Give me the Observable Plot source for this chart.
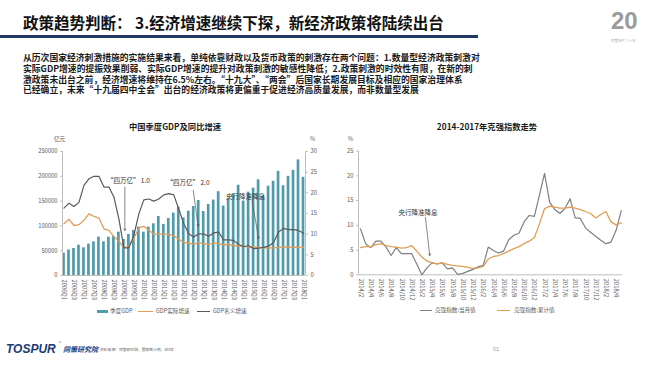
<!DOCTYPE html>
<html><head><meta charset="utf-8">
<script src="https://cdn.jsdelivr.net/npm/d3@7"></script>
<script src="https://cdn.jsdelivr.net/npm/@observablehq/plot@0.6"></script>
<style>
html,body{margin:0;padding:0;background:#fff;}
#page{position:relative;width:650px;height:365px;overflow:hidden;font-family:"Noto Sans CJK SC","Noto Sans",sans-serif;color:#1a1a1a;}
.abs{position:absolute;white-space:nowrap;}
#page svg{position:absolute;left:0;top:0;}
.body{font-size:8.8px;font-weight:700;line-height:10.5px;left:23px;}
.ct{font-size:8.3px;font-weight:700;line-height:10px;transform:translateX(-50%);}
.lg{font-size:5.6px;color:#595959;line-height:8px;}
.sw{position:absolute;}
</style></head><body><div id="page">
<div class="abs" style="left:23px;top:13px;font-size:15.5px;font-weight:700;line-height:18px;color:#111;">政策趋势判断： 3.经济增速继续下探，新经济政策将陆续出台</div>
<div class="abs" style="left:0;top:34.5px;width:478px;height:3.5px;background:#1f3864;"></div>
<div class="abs" style="left:611px;top:8px;font-size:24px;font-weight:700;color:#9b9b9b;font-family:'Liberation Sans';line-height:26px;">20</div>
<div class="abs" style="left:611px;top:38.5px;font-size:3.5px;color:#aaa;line-height:4px;">同策地产二十年</div>
<div class="abs body" style="top:53.3px;">从历次国家经济刺激措施的实施结果来看，单纯依靠财政以及货币政策的刺激存在两个问题：1.数量型经济政策刺激对</div>
<div class="abs body" style="top:64px;">实际GDP增速的提振效果削弱、实际GDP增速的提升对政策刺激的敏感性降低；2.政策刺激的时效性有限，在新的刺</div>
<div class="abs body" style="top:74.6px;">激政策未出台之前，经济增速将维持在6.5%左右。“十九大”、“两会”后国家长期发展目标及相应的国家治理体系</div>
<div class="abs body" style="top:85.3px;">已经确立，未来“十九届四中全会”出台的经济政策将更偏重于促进经济高质量发展，而非数量型发展</div>
<div class="abs ct" style="left:175px;top:121px;">中国季度GDP及同比增速</div>
<div class="abs ct" style="left:487px;top:121px;">2014-2017年克强指数走势</div>
<div class="abs lg" style="left:54px;top:135px;">亿元</div>
<div class="abs lg" style="left:310px;top:135px;">%</div>
<div class="abs lg" style="left:348px;top:135px;">%</div>

<div class="sw" style="left:97px;top:309.5px;width:11px;height:3px;background:#4f9bab;"></div>
<div class="abs lg" style="left:110px;top:307px;">季度GDP</div>
<div class="sw" style="left:138px;top:310.5px;width:15px;height:1.2px;background:#e09d55;"></div>
<div class="abs lg" style="left:156px;top:307px;">GDP实际增速</div>
<div class="sw" style="left:197px;top:310.5px;width:13px;height:1.2px;background:#5a5a5a;"></div>
<div class="abs lg" style="left:213px;top:307px;">GDP名义增速</div>

<div class="sw" style="left:420px;top:309.5px;width:12px;height:1.2px;background:#7f7f7f;"></div>
<div class="abs lg" style="left:435px;top:306px;">克强指数:当月值</div>
<div class="sw" style="left:497px;top:309.5px;width:13px;height:1.2px;background:#e09d55;"></div>
<div class="abs lg" style="left:514px;top:306px;">克强指数:累计值</div>

<div class="abs" style="left:6px;top:342px;font-family:'Liberation Sans';font-size:12px;font-weight:700;font-style:italic;color:#1a3a7a;line-height:14px;">TOSPUR</div>
<div class="abs" style="left:59px;top:341px;font-size:3px;color:#1a3a7a;">®</div>
<div class="abs" style="left:63px;top:345px;font-size:7px;font-weight:700;font-style:italic;color:#1a3a7a;line-height:9px;">同策研究院</div>
<div class="abs" style="left:100px;top:347px;font-size:3.8px;color:#666;line-height:5px;">资料来源：同策研究院、国家统计局、wind</div>
<div class="abs" style="left:493px;top:346px;font-size:5.5px;color:#999;line-height:7px;">61</div>
</div>
<script>
// ---------- Left chart data ----------
const quarters = ["2006Q1","2006Q2","2006Q3","2006Q4","2007Q1","2007Q2","2007Q3","2007Q4",
"2008Q1","2008Q2","2008Q3","2008Q4","2009Q1","2009Q2","2009Q3","2009Q4",
"2010Q1","2010Q2","2010Q3","2010Q4","2011Q1","2011Q2","2011Q3","2011Q4",
"2012Q1","2012Q2","2012Q3","2012Q4","2013Q1","2013Q2","2013Q3","2013Q4",
"2014Q1","2014Q2","2014Q3","2014Q4","2015Q1","2015Q2","2015Q3","2015Q4",
"2016Q1","2016Q2","2016Q3","2016Q4","2017Q1","2017Q2","2017Q3","2017Q4","2018Q1"];
const gdpQuarterly = [45000,51500,54500,61000,55800,63200,67900,77300,67900,77300,78600,87400,
72600,82700,90700,97500,87400,97500,104200,119000,102800,115000,125700,137800,
116300,129700,139100,151200,129000,143000,152000,169000,140000,155000,165000,182000,
150000,168000,176000,193000,161000,180000,190000,210000,181000,200000,212000,233000,198000];
const gdpRealGrowth = [12.5,13.6,12.1,12.3,13.4,14.9,14.3,13.9,11.3,10.9,9.4,8.3,
6.6,7.2,9.0,11.5,11.9,11.0,10.0,10.0,10.0,10.0,9.6,8.8,8.0,7.8,7.6,7.9,
7.7,7.5,7.9,7.7,7.4,7.5,7.2,7.2,7.0,7.0,6.9,6.8,6.7,6.7,6.7,6.8,6.9,6.9,6.8,6.8,6.8];
const gdpNominalGrowth = [16.3,17.5,16.7,17.7,21.8,23.4,24.0,24.0,21.4,21.4,19.0,13.7,
6.7,6.7,9.7,14.9,18.3,18.5,18.0,18.5,19.5,19.8,19.5,16.1,12.5,10.1,9.3,10.1,
10.0,9.5,10.3,10.5,8.6,8.6,8.5,7.5,7.0,7.2,6.5,6.6,6.8,7.1,8.0,10.5,11.4,11.1,11.1,10.9,10.2];
const leftYTicks = [0,50000,100000,150000,200000,250000];
const rightYTicks = [0,5,10,15,20,25,30];
// annotations (x in quarter index, y in %)
const annLabels = ["“四万亿” 1.0","“四万亿” 2.0","央行降准降息"];
const annTextX = [12.9,24.85,36.4];
const annTextY = [22.8,22.3,18.9];
const annArrowX1 = [12.2,25.9,37.7], annArrowY1 = [21.4,20.6,18.1];
const annArrowX2 = [12.2,26.9,39.0], annArrowY2 = [10.9,11.9,8.9];

// ---------- Right chart data ----------
const months = ["2014/2","2014/3","2014/4","2014/5","2014/6","2014/7","2014/8","2014/9","2014/10","2014/11","2014/12",
"2015/1","2015/2","2015/3","2015/4","2015/5","2015/6","2015/7","2015/8","2015/9","2015/10","2015/11","2015/12",
"2016/1","2016/2","2016/3","2016/4","2016/5","2016/6","2016/7","2016/8","2016/9","2016/10","2016/11","2016/12",
"2017/1","2017/2","2017/3","2017/4","2017/5","2017/6","2017/7","2017/8","2017/9","2017/10","2017/11","2017/12",
"2018/1","2018/2","2018/3","2018/4","2018/5"];
const kqMonthly = [9.3,6.3,5.5,6.8,6.8,5.6,3.9,5.5,4.3,4.3,4.3,
2.2,0.0,1.4,2.4,2.2,2.4,1.2,1.4,0.1,0.3,0.7,1.1,
1.6,1.9,5.6,4.9,4.4,4.8,7.1,8.0,8.4,10.7,12.0,11.8,
16.1,20.5,14.7,13.2,12.4,13.4,15.4,11.5,11.4,9.5,8.6,7.8,
7.0,6.3,6.6,9.0,13.0];
const kqCumulative = [5.5,5.7,5.7,6.1,6.3,5.9,5.7,5.6,5.4,5.5,5.9,
4.8,3.6,2.8,2.4,2.2,2.4,2.1,1.9,1.8,1.7,1.5,1.3,
1.4,1.7,3.2,3.7,3.9,4.3,4.8,5.3,5.7,6.3,6.8,7.5,
10.3,13.4,13.9,13.7,13.5,13.5,13.7,13.5,13.2,12.8,12.4,11.5,
12.2,12.8,10.7,10.1,10.5];
const kqYTicks = [0,5,10,15,20,25];
const kqAnnLabel = ["央行降准降息"];
const kqAnnTextX = [11.25], kqAnnTextY = [12.5];
const kqAnnX1 = [12.7], kqAnnY1 = [11.6], kqAnnX2 = [13.55], kqAnnY2 = [3.9];

// ---------- Build ----------
const page = document.getElementById("page");
const FONT = "'Noto Sans CJK SC','Noto Sans',sans-serif";
const AX = "#bfbfbf", TXT = "#595959", TEAL = "#4f9bab", ORANGE = "#e09d55";
const baseStyle = {background:"transparent", fontFamily:FONT, fontSize:"5.8px", color:TXT, overflow:"visible"};

const qData = quarters.map((q,i)=>({i, q, gdp:gdpQuarterly[i], real:gdpRealGrowth[i], nom:gdpNominalGrowth[i]}));
const xDomL = [-0.3, 48.4];
const evenQ = quarters.map((q,i)=>i).filter(i=>i%2===0);
const annL = annLabels.map((t,k)=>({t, x:annTextX[k], y:annTextY[k], x1:annArrowX1[k], y1:annArrowY1[k], x2:annArrowX2[k], y2:annArrowY2[k]}));

const frameL = {width:650, height:365, marginLeft:62, marginRight:345, marginTop:151, marginBottom:90};

const plotBars = Plot.plot({
  ...frameL, style:baseStyle,
  x:{type:"linear", domain:xDomL},
  y:{domain:[0,250000]},
  marks:[
    Plot.rect(qData, {x1:d=>d.i-0.27, x2:d=>d.i+0.27, y1:0, y2:"gdp", fill:TEAL}),
    Plot.ruleY([0], {stroke:AX}),
    Plot.ruleX([xDomL[0]], {stroke:AX}),
    Plot.axisY({ticks:leftYTicks, tickFormat:d=>String(d), tickSize:2, tickPadding:3, stroke:AX, fill:TXT, label:null}),
    Plot.axisX({ticks:evenQ, tickFormat:i=>quarters[i], tickRotate:90, tickSize:0, tickPadding:4, fill:TXT, label:null})
  ]
});
page.appendChild(plotBars);

const plotLines = Plot.plot({
  ...frameL, style:baseStyle,
  x:{type:"linear", domain:xDomL, axis:null},
  y:{domain:[0,30]},
  marks:[
    Plot.ruleX([xDomL[1]], {stroke:AX}),
    Plot.line(qData, {x:"i", y:"real", stroke:ORANGE, strokeWidth:1.3}),
    Plot.line(qData, {x:"i", y:"nom", stroke:"#5a5a5a", strokeWidth:1.2}),
    Plot.axisY({anchor:"right", ticks:rightYTicks, tickSize:2, tickPadding:3, stroke:AX, fill:TXT, label:null}),
    Plot.arrow(annL, {x1:"x1", y1:"y1", x2:"x2", y2:"y2", stroke:"#555", strokeWidth:0.7, headLength:4}),
    Plot.text(annL, {x:"x", y:"y", text:"t", fontSize:6.5, fill:"#333"})
  ]
});
page.appendChild(plotLines);

const kData = months.map((m,i)=>({i, m, mon:kqMonthly[i], cum:kqCumulative[i]}));
const xDomR = [-0.39, 51.25];
const evenM = months.map((m,i)=>i).filter(i=>i%2===0);
const annR = kqAnnLabel.map((t,k)=>({t, x:kqAnnTextX[k], y:kqAnnTextY[k], x1:kqAnnX1[k], y1:kqAnnY1[k], x2:kqAnnX2[k], y2:kqAnnY2[k]}));

const plotKQ = Plot.plot({
  width:650, height:365, marginLeft:358, marginRight:28, marginTop:150.7, marginBottom:90.7,
  style:baseStyle,
  x:{type:"linear", domain:xDomR},
  y:{domain:[0,25]},
  marks:[
    Plot.ruleY([0], {stroke:AX}),
    Plot.ruleX([xDomR[0]], {stroke:AX}),
    Plot.line(kData, {x:"i", y:"mon", stroke:"#7f7f7f", strokeWidth:1.2}),
    Plot.line(kData, {x:"i", y:"cum", stroke:ORANGE, strokeWidth:1.3}),
    Plot.axisY({ticks:kqYTicks, tickSize:2, tickPadding:3, stroke:AX, fill:TXT, label:null}),
    Plot.axisX({ticks:evenM, tickFormat:i=>months[i], tickRotate:90, tickSize:0, tickPadding:4, fill:TXT, label:null}),
    Plot.arrow(annR, {x1:"x1", y1:"y1", x2:"x2", y2:"y2", stroke:"#555", strokeWidth:0.7, headLength:4}),
    Plot.text(annR, {x:"x", y:"y", text:"t", fontSize:6.5, fill:"#333"})
  ]
});
page.appendChild(plotKQ);
</script>
</body></html>
